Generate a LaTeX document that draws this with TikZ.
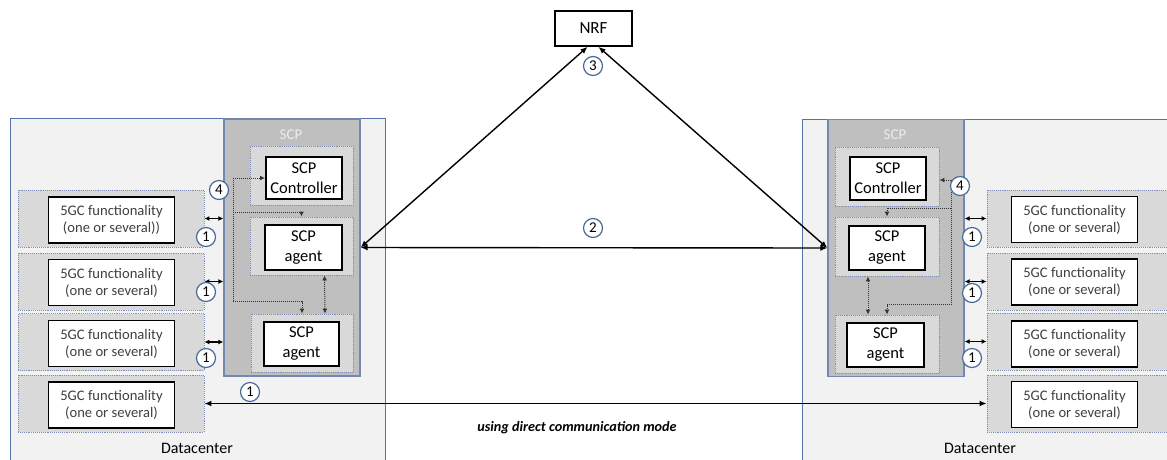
\documentclass[tikz,border=0pt]{standalone}
\usepackage{fontspec}
\setmainfont{Carlito}
\usetikzlibrary{arrows.meta}
\definecolor{dcfill}{HTML}{F2F2F2}
\definecolor{dcline}{HTML}{5473A8}
\definecolor{scpfill}{HTML}{BFBFBF}
\definecolor{scpline}{HTML}{7388B0}
\definecolor{holdfill}{HTML}{D9D9D9}
\definecolor{holdline}{HTML}{7F8FB8}
\definecolor{fgctext}{HTML}{404040}
\definecolor{numline}{HTML}{4A6A9C}
\definecolor{ctlgray}{HTML}{333333}
\definecolor{scplabel}{HTML}{EDEDED}

\begin{document}
\begin{tikzpicture}[x=1pt,y=-1pt,>=Latex,
  dc/.style={draw=dcline,fill=dcfill,line width=1.3pt},
  scp/.style={draw=scpline,fill=scpfill,line width=1.3pt,minimum width=136,minimum height=257},
  holder/.style={draw=holdline,fill=holdfill,densely dotted,line width=0.9pt,inner sep=0pt},
  fgc/.style={holder,minimum width=186,minimum height=57},
  fgcbox/.style={draw,fill=white,line width=1.7pt,inner sep=0pt,minimum width=126,minimum height=46,align=center,text=fgctext,font=\fontsize{14.6}{17}\selectfont},
  scpbox/.style={draw,fill=white,line width=1.9pt,inner sep=0pt,align=center,font=\fontsize{16.5}{20}\selectfont},
  num/.style={circle,draw=numline,fill=white,line width=1.2pt,minimum size=19,inner sep=0pt,font=\fontsize{15}{15}\selectfont},
  link/.style={line width=1.4pt,{Latex[length=7pt,width=6pt]}-{Latex[length=7pt,width=6pt]}},
  short/.style={line width=1.4pt,{Latex[length=5pt,width=5pt]}-{Latex[length=5pt,width=5pt]}},
  ctl/.style={draw=ctlgray,densely dotted,line width=1pt,-{Latex[length=5pt,width=5pt]}}]
  \clip (0,0) rectangle (1167,459);

  \node[dc,anchor=north west,minimum width=375,minimum height=360] (dcL) at (10,118) {};
  \node[dc,anchor=north west,minimum width=380,minimum height=360] (dcR) at (802,119) {};
  \node[font=\fontsize{16}{19}\selectfont] (dcLtxt) at (197,448) {Datacenter};
  \node[font=\fontsize{16}{19}\selectfont] (dcRtxt) at (980,448) {Datacenter};

  \node[scp] (scpL) at (292,247.5) {};
  \node[scp] (scpR) at (896,248) {};
  \node[text=scplabel,font=\fontsize{15}{18}\selectfont] (scpLtxt) at (291,135) {SCP};
  \node[text=scplabel,font=\fontsize{15}{18}\selectfont] (scpRtxt) at (895,135) {SCP};

  \node[holder,minimum width=103,minimum height=59] (ctrlLh) at (301.5,175.5) {};
  \node[scpbox,minimum width=76,minimum height=42] (ctrlL) at (304,178) {SCP\\Controller};
  \node[holder,minimum width=103,minimum height=58] (agentLah) at (301.5,246) {};
  \node[scpbox,minimum width=77,minimum height=45] (agentLa) at (303.5,247.5) {SCP\\agent};
  \node[holder,minimum width=102,minimum height=58] (agentLbh) at (302,343) {};
  \node[scpbox,minimum width=75,minimum height=44] (agentLb) at (301.5,344) {SCP\\agent};

  \node[holder,minimum width=104,minimum height=59] (ctrlRh) at (887,176.5) {};
  \node[scpbox,minimum width=76,minimum height=43] (ctrlR) at (888,178.5) {SCP\\Controller};
  \node[holder,minimum width=104,minimum height=59] (agentRah) at (887,246.5) {};
  \node[scpbox,minimum width=76,minimum height=44] (agentRa) at (887,248) {SCP\\agent};
  \node[holder,minimum width=104,minimum height=58] (agentRbh) at (887,344) {};
  \node[scpbox,minimum width=77,minimum height=44] (agentRb) at (885.5,345) {SCP\\agent};

  \node[fgc] (hL1) at (111,218.5) {};
  \node[fgc] (hL2) at (111,281.5) {};
  \node[fgc] (hL3) at (111,342) {};
  \node[fgc] (hL4) at (111,403.5) {};
  \node[fgcbox] (fgcL1) at (111.5,220) {5GC functionality\\(one or several))};
  \node[fgcbox] (fgcL2) at (111.5,282.5) {5GC functionality\\(one or several)};
  \node[fgcbox] (fgcL3) at (111.5,343.5) {5GC functionality\\(one or several)};
  \node[fgcbox] (fgcL4) at (111.5,405) {5GC functionality\\(one or several)};

  \node[fgc,minimum width=193] (hR1) at (1083.5,218.5) {};
  \node[fgc,minimum width=193] (hR2) at (1083.5,281.5) {};
  \node[fgc,minimum width=193] (hR3) at (1083.5,341.5) {};
  \node[fgc,minimum width=193] (hR4) at (1083.5,403.5) {};
  \node[fgcbox] (fgcR1) at (1074.5,219.5) {5GC functionality\\(one or several)};
  \node[fgcbox] (fgcR2) at (1074.5,282) {5GC functionality\\(one or several)};
  \node[fgcbox] (fgcR3) at (1074.5,344) {5GC functionality\\(one or several)};
  \node[fgcbox] (fgcR4) at (1074.5,404.5) {5GC functionality\\(one or several)};

  \node[draw,line width=1.7pt,minimum width=77,minimum height=35,font=\fontsize{17}{20}\selectfont] (nrf) at (593.5,28.5) {NRF};

  \draw[short] (hL1.east) -- (hL1 -| scpL.west);
  \draw[short] (hL2.east) -- (hL2 -| scpL.west);
  \draw[short] (hL3.east) -- (hL3 -| scpL.west);
  \draw[short] (hR1.west) -- (hR1 -| scpR.east);
  \draw[short] (hR2.west) -- (hR2 -| scpR.east);
  \draw[short] (hR3.west) -- (hR3 -| scpR.east);
  \draw[link] (hL4.east) -- (hR4.west);

  \draw[link] ([xshift=-6pt]nrf.south) -- (agentLa -| scpL.east);
  \draw[link] ([xshift=5pt]nrf.south) -- (agentRa -| scpR.west);
  \draw[link] (agentLa -| scpL.east) -- (agentRa -| scpR.west);

  \coordinate (busL) at (233,178);
  \draw[ctl] (busL) -- (ctrlL.west);
  \draw[ctl] (busL) |- ([yshift=12pt]agentLbh.north) -- (agentLbh.north);
  \draw[ctl] ([yshift=-34pt]busL) -| (agentLah.north);
  \draw[ctl,{Latex[length=5pt,width=5pt]}-{Latex[length=5pt,width=5pt]}] ([xshift=23pt]agentLah.south) -- ([xshift=23pt]agentLbh.north);

  \coordinate (busR) at (951,180);
  \draw[ctl] (busR) -- (busR -| ctrlRh.east);
  \draw[ctl] (busR) |- ([yshift=10pt]agentRbh.north) -- (agentRbh.north);
  \draw[ctl] ([yshift=-28pt]busR) -| (agentRah.north);
  \draw[ctl,{Latex[length=5pt,width=5pt]}-{Latex[length=5pt,width=5pt]}] ([xshift=-19pt]agentRah.south) -- ([xshift=-19pt]agentRbh.north);

  \node[num] (n3) at (593,66) {3};
  \node[num] (n2) at (593,228) {2};
  \node[num] (n4L) at (219,190) {4};
  \node[num] (n4R) at (960,186) {4};
  \node[num] (n1L1) at (206,237) {1};
  \node[num] (n1L2) at (206,292) {1};
  \node[num] (n1L3) at (206,358) {1};
  \node[num] (n1L4) at (250,392) {1};
  \node[num] (n1R1) at (972,237) {1};
  \node[num] (n1R2) at (972,293) {1};
  \node[num] (n1R3) at (972,358) {1};

  \node[font=\fontsize{14.2}{16}\selectfont\bfseries\itshape] (mode) at (577,428) {using direct communication mode};
\end{tikzpicture}
\end{document}
